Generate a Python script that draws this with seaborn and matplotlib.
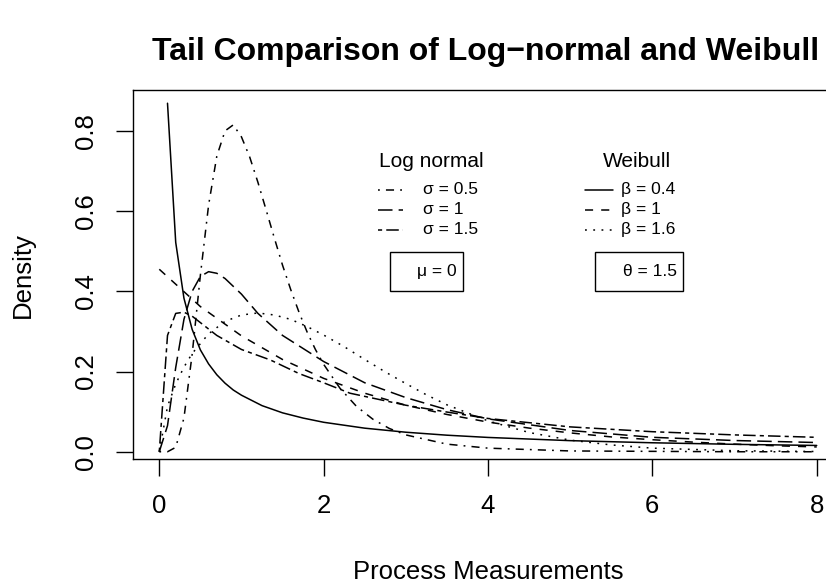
import matplotlib
matplotlib.use('Agg')
import matplotlib.pyplot as plt
from matplotlib.patches import Rectangle
import seaborn as sns

# Weibull densities (theta = 1.5)
x_w04 = [0.1, 0.2, 0.3, 0.4, 0.5, 0.6, 0.7, 0.8, 0.9, 1.0, 1.25, 1.5, 1.75, 2.0, 2.5, 3.0, 3.5, 4.0, 5.0, 6.0, 7.0, 8.0]
y_w04 = [0.869, 0.522, 0.383, 0.305, 0.254, 0.219, 0.192, 0.171, 0.154, 0.141, 0.115, 0.097, 0.084, 0.0735, 0.0588, 0.0487, 0.0413, 0.0357, 0.0277, 0.0224, 0.0185, 0.0157]

x_w10 = [0, 0.5, 1.0, 1.5, 2.0, 2.5, 3.0, 3.5, 4.0, 4.5, 5.0, 5.5, 6.0, 6.5, 7.0, 7.5, 8.0]
y_w10 = [0.455, 0.362, 0.289, 0.230, 0.183, 0.146, 0.116, 0.093, 0.074, 0.059, 0.047, 0.037, 0.030, 0.024, 0.019, 0.015, 0.012]

x_w16 = [0, 0.1, 0.2, 0.3, 0.4, 0.6, 0.8, 1.0, 1.2, 1.4, 1.6, 1.8, 2.0, 2.25, 2.5, 2.75, 3.0, 3.25, 3.5, 4.0, 4.5, 5.0, 5.5, 6.0, 7.0, 8.0]
y_w16 = [0, 0.113, 0.169, 0.211, 0.245, 0.294, 0.325, 0.341, 0.346, 0.341, 0.330, 0.312, 0.291, 0.262, 0.230, 0.199, 0.170, 0.142, 0.117, 0.077, 0.048, 0.029, 0.017, 0.009, 0.0025, 0.0006]

# Log-normal densities (mu = 0)
x_ln05 = [0, 0.1, 0.2, 0.3, 0.4, 0.5, 0.6, 0.7, 0.8, 0.9, 1.0, 1.1, 1.2, 1.3, 1.4, 1.5, 1.6, 1.7, 1.8, 1.9, 2.0, 2.2, 2.4, 2.6, 2.8, 3.0, 3.5, 4.0, 5.0, 6.0, 7.0, 8.0]
y_ln05 = [0, 0, 0.011, 0.084, 0.243, 0.44, 0.615, 0.737, 0.80, 0.815, 0.785, 0.735, 0.672, 0.603, 0.533, 0.465, 0.404, 0.348, 0.298, 0.255, 0.218, 0.158, 0.113, 0.081, 0.058, 0.042, 0.019, 0.009, 0.002, 0.001, 0, 0]

x_ln10 = [0, 0.1, 0.2, 0.3, 0.4, 0.5, 0.6, 0.7, 0.8, 1.0, 1.2, 1.5, 2.0, 2.5, 3.0, 3.5, 4.0, 5.0, 6.0, 7.0, 8.0]
y_ln10 = [0, 0.065, 0.21, 0.33, 0.40, 0.437, 0.449, 0.445, 0.432, 0.393, 0.345, 0.29, 0.225, 0.172, 0.135, 0.105, 0.082, 0.053, 0.036, 0.028, 0.023]

x_ln15 = [0, 0.1, 0.2, 0.3, 0.4, 0.5, 0.7, 1.0, 1.35, 1.7, 2.0, 2.32, 3.0, 3.5, 4.0, 5.0, 6.0, 7.0, 8.0]
y_ln15 = [0, 0.29, 0.345, 0.348, 0.338, 0.322, 0.29, 0.255, 0.229, 0.195, 0.172, 0.146, 0.116, 0.099, 0.083, 0.062, 0.05, 0.042, 0.036]

x_ticks = [0, 2, 4, 6, 8]
y_ticks = [0.0, 0.2, 0.4, 0.6, 0.8]

sns.set_theme(style="ticks")
plt.rcParams['font.family'] = ['Liberation Sans', 'DejaVu Sans']
plt.rcParams.update({'text.color': 'black', 'axes.labelcolor': 'black',
                     'xtick.color': 'black', 'ytick.color': 'black'})

# R line types
LTY = {
    'solid': '-',
    'dashed': (0, (5.3, 5.3)),
    'dotted': (0, (1.2, 4.2)),
    'dotdash': (0, (1.2, 4.0, 5.3, 4.0)),
    'longdash': (0, (9.5, 4.0)),
    'twodash': (0, (2.7, 2.7, 8.2, 2.7)),
}
LW = 1.1

fig = plt.figure(figsize=(8.26, 5.84), dpi=100)
ax = fig.add_axes([0.1610, 0.2134, 0.8596, 0.6325])

curves = [
    (x_ln05, y_ln05, 'dotdash'),
    (x_ln10, y_ln10, 'longdash'),
    (x_ln15, y_ln15, 'twodash'),
    (x_w04, y_w04, 'solid'),
    (x_w10, y_w10, 'dashed'),
    (x_w16, y_w16, 'dotted'),
]
for xs, ys, lty in curves:
    sns.lineplot(x=xs, y=ys, ax=ax, color='black', linewidth=LW,
                 linestyle=LTY[lty], estimator=None, sort=False, errorbar=None)

ax.set_xlim(-0.32, 8.32)
ax.set_ylim(-0.019, 0.902)
ax.set_xticks(x_ticks)
ax.set_xticklabels([str(t) for t in x_ticks])
ax.set_yticks(y_ticks)
ax.set_yticklabels(['%.1f' % t for t in y_ticks], rotation=90, va='center')
ax.tick_params(direction='out', length=12, width=1, colors='black',
               labelsize=18.5, pad=13)
for s in ax.spines.values():
    s.set_color('black')
    s.set_linewidth(1)
ax.set_xlabel('')
ax.set_ylabel('')

fig.text(486 / 826, 1 - 52 / 584, 'Tail Comparison of Log\u2212normal and Weibull',
         ha='center', va='center', fontsize=23, fontweight='bold', color='black')
fig.text(488 / 826, 1 - 572 / 584, 'Process Measurements',
         ha='center', va='center', fontsize=18.5, color='black')
fig.text(23 / 826, 1 - 275 / 584, 'Density', rotation=90,
         ha='center', va='center', fontsize=18.5, color='black')

# legend blocks drawn by hand, the way R placed them
leg_fs = 15
item_fs = 12.5
row_y = [0.653, 0.603, 0.553]

ax.text(3.31, 0.724, 'Log normal', ha='center', va='center', fontsize=leg_fs)
ln_labels = ['\u03c3 = 0.5', '\u03c3 = 1', '\u03c3 = 1.5']
for yy, lab, lty in zip(row_y, ln_labels, ['dotdash', 'longdash', 'twodash']):
    ax.plot([2.665, 2.97], [yy, yy], color='black', linewidth=LW, linestyle=LTY[lty])
    ax.text(3.21, yy, lab, ha='left', va='center', fontsize=item_fs)

ax.text(5.81, 0.724, 'Weibull', ha='center', va='center', fontsize=leg_fs)
wb_labels = ['\u03b2 = 0.4', '\u03b2 = 1', '\u03b2 = 1.6']
for yy, lab, lty in zip(row_y, wb_labels, ['solid', 'dashed', 'dotted']):
    ax.plot([5.18, 5.52], [yy, yy], color='black', linewidth=LW, linestyle=LTY[lty])
    ax.text(5.62, yy, lab, ha='left', va='center', fontsize=item_fs)

ax.add_patch(Rectangle((2.807, 0.401), 0.889, 0.097, fill=False, edgecolor='black', linewidth=1))
ax.text(3.62, 0.449, '\u03bc = 0', ha='right', va='center', fontsize=item_fs)
ax.add_patch(Rectangle((5.302, 0.401), 1.071, 0.097, fill=False, edgecolor='black', linewidth=1))
ax.text(6.30, 0.449, '\u03b8 = 1.5', ha='right', va='center', fontsize=item_fs)

fig.savefig('out.png', dpi=100)
